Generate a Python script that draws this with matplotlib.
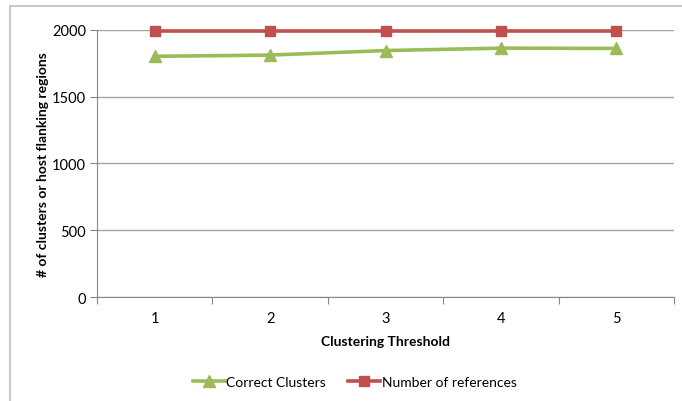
import matplotlib
matplotlib.use("Agg")
import matplotlib.pyplot as plt
from matplotlib.lines import Line2D

plt.rcParams["font.family"] = ["Lato", "DejaVu Sans"]

# ── 数据 ──
thresholds = ["1", "2", "3", "4", "5"]
correct_clusters = [1803, 1812, 1846, 1864, 1862]
num_references = [1994, 1994, 1994, 1994, 1994]

GREEN = "#9BBB59"
RED = "#C0504D"
GRID = "#A6A6A6"

fig = plt.figure(figsize=(6.82, 4.02), dpi=100)
ax = fig.add_axes([0.1422, 0.2587, 0.8461, 0.6642])

x = list(range(len(thresholds)))
ax.plot(x, correct_clusters, "-^", color=GREEN, linewidth=2.6, markersize=8,
        markeredgecolor=GREEN, zorder=3, clip_on=False)
ax.plot(x, num_references, "-s", color=RED, linewidth=2.6, markersize=7.5,
        markeredgecolor=RED, zorder=4, clip_on=False)

ax.set_xlim(-0.5, len(thresholds) - 0.5)
ax.set_ylim(0, 2000)
ax.set_yticks([0, 500, 1000, 1500, 2000])
ax.yaxis.grid(True, color=GRID, linewidth=1)
ax.set_axisbelow(True)

# x 轴刻度在类别之间，标签在中间
ax.set_xticks([i - 0.5 for i in range(len(thresholds) + 1)])
ax.set_xticklabels([])
ax.set_xticks(x, minor=True)
ax.set_xticklabels(thresholds, minor=True)
ax.tick_params(axis="x", which="minor", length=0, pad=10, labelsize=10.5)
ax.tick_params(axis="x", which="major", length=5, color="#868686")
ax.tick_params(axis="y", length=5, color="#868686", labelsize=10.5, pad=3)

for s in ["top", "right"]:
    ax.spines[s].set_visible(False)
for s in ["left", "bottom"]:
    ax.spines[s].set_color("#868686")

ax.set_xlabel("Clustering Threshold", fontsize=10, fontweight="bold", labelpad=7)
ax.set_ylabel("# of clusters or host flanking regions", fontsize=10,
              fontweight="bold", labelpad=2)

handles = [
    Line2D([], [], color=GREEN, marker="^", linewidth=2.6, markersize=8),
    Line2D([], [], color=RED, marker="s", linewidth=2.6, markersize=7.5),
]
fig.legend(handles, ["Correct Clusters", "Number of references"],
           loc="center", bbox_to_anchor=(0.52, 0.048), ncol=2, frameon=False,
           fontsize=10, handlelength=2.3, handletextpad=0.1, columnspacing=1.6)

# 外框（只露出上边和左边）
fig.add_artist(Line2D([10 / 682, 1.0], [1 - 7 / 402, 1 - 7 / 402],
                      transform=fig.transFigure, color="#BFBFBF", linewidth=1.2))
fig.add_artist(Line2D([10 / 682, 10 / 682], [0, 1 - 7 / 402],
                      transform=fig.transFigure, color="#BFBFBF", linewidth=1.2))

fig.savefig("out.png", dpi=100)
